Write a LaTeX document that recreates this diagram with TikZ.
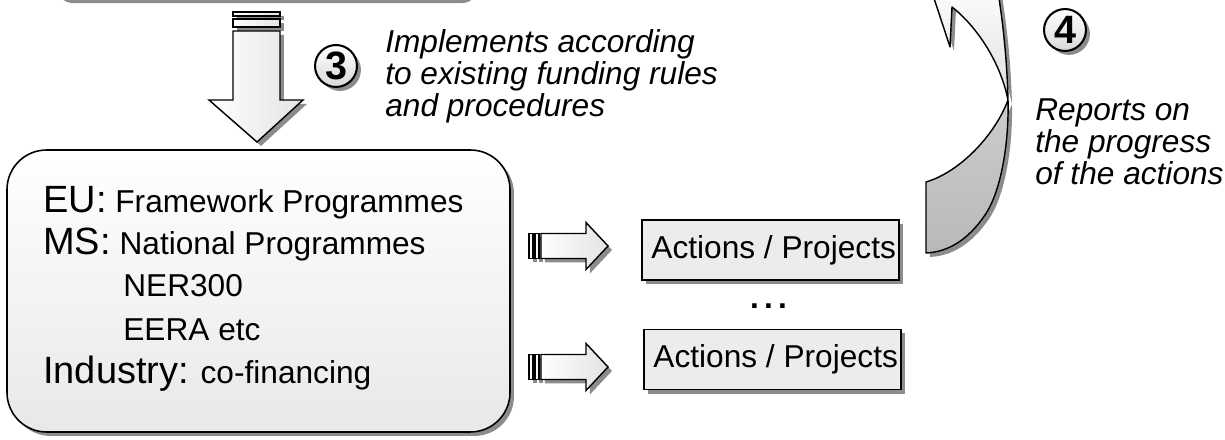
\documentclass[tikz,border=0pt]{standalone}
\usepackage{fontspec}
\setmainfont{Liberation Sans}
\usetikzlibrary{shadows}

\newcommand{\headword}[1]{{\fontsize{24}{24}\selectfont #1}}

\begin{document}
\begin{tikzpicture}[x=0.632pt,y=-0.632pt,
    castshadow/.style={drop shadow={shadow xshift=2.5pt,shadow yshift=-2.5pt,opacity=.45,fill=black}},
    blockarrow/.style={draw,line width=0.9pt,line join=miter,left color=white,right color=gray!22,castshadow},
    actbox/.style={draw,line width=1pt,fill=gray!15,minimum width=162.4pt,minimum height=38pt,inner sep=0pt,castshadow,font=\fontsize{20}{24}\selectfont},
    numdisc/.style={circle,draw,line width=1.3pt,minimum size=26.5pt,inner sep=0pt,top color=white,bottom color=gray!30,castshadow,font=\fontsize{25}{25}\selectfont\bfseries},
    note/.style={anchor=base west,align=left,inner sep=0pt,font=\fontsize{20}{20.5}\selectfont\itshape},
    entry/.style={anchor=base west,inner sep=0pt,font=\fontsize{20}{24}\selectfont}]

\useasboundingbox (0,0) rectangle (1225,440);
\clip (0,0) rectangle (1225,440);

% box above (cut off)
\node (funds) [draw,line width=1pt,rounded corners=8pt,fill=white,minimum width=263.5pt,minimum height=38pt,castshadow] at (263.5,-31) {};

% down arrow
\draw[blockarrow] (233,12) rectangle (280,16);
\draw[blockarrow] (233,19) rectangle (280,27);
\draw[blockarrow] (233,31) -- (280,31) -- (280,100) -- (303,100) -- (257,142) -- (209,100) -- (233,100) -- cycle;

\node (stepthree) [numdisc] at (336,66) {3};
\node (howtext) [note] at (385,117) {Implements according\\to existing funding rules\\and procedures};

% funding programmes
\node (panel) [draw,line width=1pt,rounded corners=25pt,top color=white,bottom color=gray!18,minimum width=317.9pt,minimum height=178.2pt,castshadow] at (258.5,291) {};
\node (eu) [entry] at (43,213) {\headword{EU:} Framework Programmes};
\node (ms) [entry] at (43,255) {\headword{MS:} National Programmes};
\node (ner) [entry] at (123,297) {NER300};
\node (eera) [entry] at (123,340) {EERA etc};
\node (ind) [entry] at (43,383) {\headword{Industry:} co-financing};

% right arrows
\foreach \cy in {246,367} {
  \draw[blockarrow] (529,\cy-12.5) rectangle (533,\cy+12.5);
  \draw[blockarrow] (535,\cy-12.5) rectangle (539,\cy+12.5);
  \draw[blockarrow] (541,\cy-12.5) -- (586,\cy-12.5) -- (586,\cy-23.5) -- (608,\cy) -- (586,\cy+23.5) -- (586,\cy+12.5) -- (541,\cy+12.5) -- cycle;
}

% actions
\node (act1) [actbox] at (770.5,250) {\hspace*{4pt}Actions / Projects};
\node (act2) [actbox] at (772.5,359.5) {\hspace*{4pt}Actions / Projects};
\node (more) [anchor=base,font=\fontsize{20}{24}\selectfont\bfseries] at (768.5,309) {.\,.\,.};

% report arrow
\fill[black,opacity=.45,shift={(2.5pt,-2.5pt)}] (926,182) .. controls (960,172) and (995,135) .. (1008,100) .. controls (1000,60) and (975,25) .. (952,7) -- (950,47) -- (928,-20) -- (996,-20) .. controls (1003,20) and (1007,60) .. (1008,100) .. controls (1009,140) and (1002,190) .. (985,215) .. controls (968,240) and (948,252) .. (926,253) -- cycle;
\path[top color=white,bottom color=gray!25] (1008,100) .. controls (1007,60) and (1003,20) .. (996,-20) -- (928,-20) -- (950,47) -- (952,7) .. controls (975,25) and (1000,60) .. (1008,100) -- cycle;
\path[top color=gray!40,bottom color=gray!55] (926,182) .. controls (960,172) and (995,135) .. (1008,100) .. controls (1009,140) and (1002,190) .. (985,215) .. controls (968,240) and (948,252) .. (926,253) -- cycle;
\draw[line width=0.9pt,line join=round] (926,182) .. controls (960,172) and (995,135) .. (1008,100) .. controls (1000,60) and (975,25) .. (952,7) -- (950,47) -- (928,-20) -- (996,-20) .. controls (1003,20) and (1007,60) .. (1008,100) .. controls (1009,140) and (1002,190) .. (985,215) .. controls (968,240) and (948,252) .. (926,253) -- cycle;

\node (stepfour) [numdisc] at (1065,30) {4};
\node (reptext) [note] at (1035,185) {Reports on\\the progress\\of the actions};

\end{tikzpicture}
\end{document}
